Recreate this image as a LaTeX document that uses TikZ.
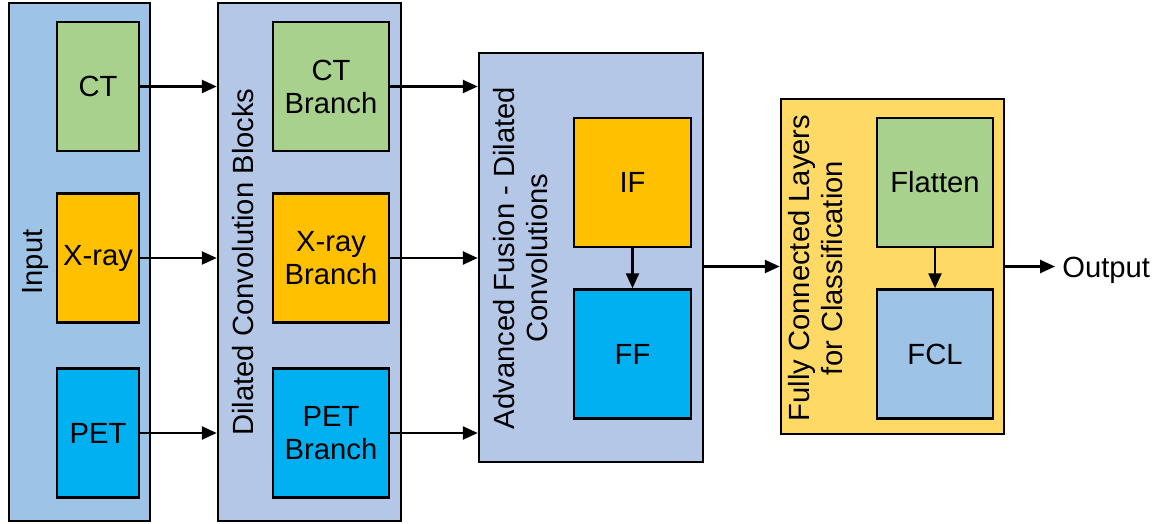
\documentclass[tikz,border=0pt]{standalone}
\usepackage{fontspec}
\setmainfont{Liberation Sans}
\definecolor{inblue}{HTML}{9DC3E6}
\definecolor{panelblue}{HTML}{B4C7E7}
\definecolor{panelgold}{HTML}{FFD966}
\definecolor{ctgreen}{HTML}{A9D18E}
\definecolor{xorange}{HTML}{FFC000}
\definecolor{petcyan}{HTML}{00B0F0}
\usetikzlibrary{arrows.meta,positioning}

\begin{document}
\begin{tikzpicture}[x=0.5pt,y=-0.5pt,font=\fontsize{14.6}{16.5}\selectfont,
  panel/.style={draw=black,line width=1.25pt,inner sep=0pt},
  block/.style={draw=black,line width=1.25pt,align=center,inner sep=0pt,minimum height=64.5pt},
  lab/.style={rotate=90,align=center,inner sep=0pt},
  arr/.style={line width=1.25pt,-{Triangle[length=7.5pt,width=6.5pt]}}]
\useasboundingbox (0,0) rectangle (1158,524);
% column 1: the input images
\node[panel,fill=inblue,minimum width=70.5pt,minimum height=259pt] (input) at (79.5,262) {};
\node[lab] (inlab) at (35,262) {Input};
\foreach \n/\t/\c/\y in {ct/CT/ctgreen/86.5, xray/X-ray/xorange/258, pet/PET/petcyan/433}{
  \node[block,fill=\c,minimum width=41pt] (\n) at (98,\y) {\t};}
% column 2: one dilated convolution branch per modality
\node[panel,fill=panelblue,minimum width=91.5pt,minimum height=259pt] (dcb) at (309.5,262) {};
\node[lab] (dcblab) at (243,262) {Dilated Convolution Blocks};
\foreach \n/\t/\c/\y in {ctb/CT/ctgreen/86.5, xrayb/X-ray/xorange/258, petb/PET/petcyan/433}{
  \node[block,fill=\c,minimum width=58pt] (\n) at (331,\y) {\t\\Branch};}
% column 3: fusion
\node[panel,fill=panelblue,minimum width=112pt,minimum height=204.5pt] (fusion) at (591,257.5) {};
\node[lab] (fuslab) at (521,258) {Advanced Fusion - Dilated\\Convolutions};
\node[block,fill=xorange,minimum width=58.5pt] (ifb) at (632.5,182.5) {IF};
\node[block,fill=petcyan,minimum width=58.5pt] (ff) at (632.5,354) {FF};
% column 4: classification head
\node[panel,fill=panelgold,minimum width=111.5pt,minimum height=167.5pt] (fcl) at (892.5,266.5) {};
\node[lab] (fcllab) at (816,268) {Fully Connected Layers\\for Classification};
\node[block,fill=ctgreen,minimum width=58pt] (flat) at (935,182.5) {Flatten};
\node[block,fill=inblue,minimum width=58pt] (fclayer) at (935,354) {FCL};
\node[anchor=west,inner sep=0pt] (out) at (1062,270) {Output};
% connectors
\foreach \a/\b in {ct/ctb, xray/xrayb, pet/petb}{
  \draw[arr] (\a.east) -- (\a.east -| dcb.west);
  \draw[arr] (\b.east) -- (\b.east -| fusion.west);}
\draw[arr] (ifb) -- (ff);
\draw[arr] (flat) -- (fclayer);
\draw[arr] (fusion.east |- fcl.west) -- (fcl.west);
\draw[arr,shorten >=3.5pt] (fcl.east) -- (fcl.east -| out.west);
\end{tikzpicture}
\end{document}
